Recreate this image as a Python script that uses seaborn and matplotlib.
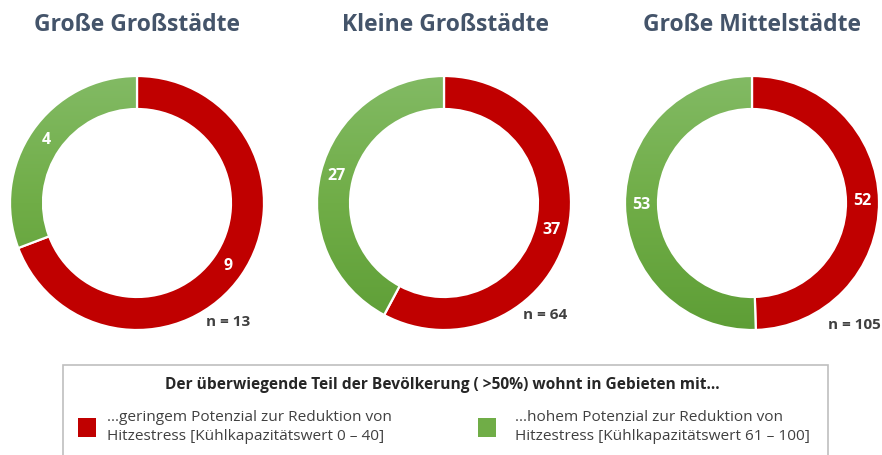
import numpy as np
import matplotlib
matplotlib.use("Agg")
import matplotlib.pyplot as plt
import seaborn as sns
from matplotlib.colors import LinearSegmentedColormap
from matplotlib.patches import Rectangle

# City size classes and counts of cities per cooling-potential class
categories = ["Große Großstädte", "Kleine Großstädte", "Große Mittelstädte"]
low_potential = [9, 37, 52]    # ...geringem Potenzial (Kühlkapazitätswert 0 – 40)
high_potential = [4, 27, 53]   # ...hohem Potenzial (Kühlkapazitätswert 61 – 100)

legend_title = "Der überwiegende Teil der Bevölkerung ( >50%) wohnt in Gebieten mit..."
legend_low = "...geringem Potenzial zur Reduktion von\nHitzestress [Kühlkapazitätswert 0 – 40]"
legend_high = "...hohem Potenzial zur Reduktion von\nHitzestress [Kühlkapazitätswert 61 – 100]"

sns.set_theme(style="white")
plt.rcParams["font.family"] = ["Open Sans", "DejaVu Sans"]

RED = "#C00000"
GREEN = "#70AD47"
TITLE_COLOR = "#44546A"
TEXT_COLOR = "#404040"
green_grad = LinearSegmentedColormap.from_list("green_grad", ["#5E9E36", "#70AD47", "#82BA64"])

W, H = 882, 455
fig = plt.figure(figsize=(W / 100, H / 100), dpi=100)
fig.patch.set_facecolor("white")

centers_px = [(137, 203), (444, 203), (752, 203)]
radius_px = 127
title_x_px = [137, 445, 752]
n_offsets = [(0.72, -0.94), (0.80, -0.88), (0.81, -0.96)]

for i, cat in enumerate(categories):
    cx, cy = centers_px[i]
    ax = fig.add_axes([(cx - radius_px) / W, (H - cy - radius_px) / H,
                       2 * radius_px / W, 2 * radius_px / H])
    vals = [low_potential[i], high_potential[i]]
    wedges, texts, autotexts = ax.pie(
        vals, colors=[RED, GREEN], startangle=90, counterclock=False,
        radius=1.0, wedgeprops=dict(width=0.26, edgecolor="white", linewidth=1.6),
        autopct=lambda p, v=vals: f"{round(p * sum(v) / 100):d}",
        pctdistance=0.87,
        textprops=dict(color="white", fontsize=11.5, fontweight="bold"),
    )
    # vertical gradient fill for the green ring segment
    gw = wedges[1]
    gw.set_facecolor("none")
    gw.set_zorder(3)
    grad = np.linspace(0, 1, 256).reshape(-1, 1)
    img = ax.imshow(grad, cmap=green_grad, extent=[-1, 1, -1, 1], origin="lower",
                    aspect="auto", zorder=2, interpolation="bilinear")
    img.set_clip_path(gw)
    for t in autotexts:
        t.set_zorder(5)
    ax.set_xlim(-1, 1)
    ax.set_ylim(-1, 1)
    ax.set_aspect("equal")
    ax.axis("off")
    nx, ny = n_offsets[i]
    ax.text(nx, ny, f"n = {sum(vals)}", ha="center", va="center", fontsize=11,
            fontweight="bold", color=TEXT_COLOR, clip_on=False, zorder=6)
    fig.text(title_x_px[i] / W, 1 - 25 / H, cat, ha="center", va="center",
             fontsize=16.5, fontweight="bold", color=TITLE_COLOR)

# legend box
box = Rectangle((63 / W, -10 / H), (828 - 63) / W, (H - 365 + 10) / H,
                transform=fig.transFigure, facecolor="white", edgecolor="#BFBFBF",
                linewidth=1.2, zorder=0)
fig.patches.append(box)
fig.text(442 / W, 1 - 385 / H, legend_title, ha="center", va="center",
         fontsize=11.2, fontweight="bold", color="#262626")
for sx, color, label, tx in [(78, RED, legend_low, 107), (478, GREEN, legend_high, 515)]:
    fig.patches.append(Rectangle((sx / W, 1 - 437 / H), 18 / W, 19 / H,
                                 transform=fig.transFigure, facecolor=color,
                                 edgecolor="none"))
    fig.text(tx / W, 1 - 427 / H, label, ha="left", va="center", fontsize=11.1,
             color="#404040", linespacing=1.32)

fig.savefig("out.png", dpi=100, facecolor="white")
